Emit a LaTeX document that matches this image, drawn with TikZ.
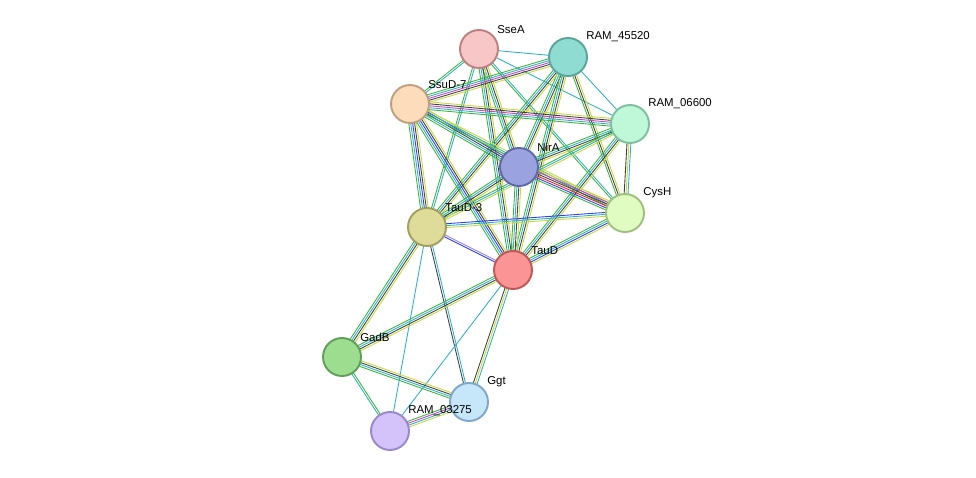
\documentclass[tikz,border=0pt]{standalone}
\usepackage{fontspec}
\setmainfont{Liberation Sans}
\usetikzlibrary{calc}
\definecolor{yel}{HTML}{C8D83C}
\definecolor{grn}{HTML}{3CB43C}
\definecolor{cya}{HTML}{30B0C8}
\definecolor{blk}{HTML}{404040}
\definecolor{mag}{HTML}{C840C8}
\definecolor{blu}{HTML}{3040E8}
\definecolor{rd}{HTML}{E82020}
\definecolor{pur}{HTML}{9A80F0}
\newcommand{\pedge}[3]{%
  \foreach \c [count=\n] in {#3}{\xdef\ncol{\n}}
  \foreach \c [count=\i] in {#3}{
    \pgfmathsetmacro{\off}{(\i-(\ncol+1)/2)*1.1}
    \draw[link,\c] ($(#1)!\off pt!90:(#2)$) -- ($(#2)!\off pt!-90:(#1)$);
  }}
\begin{document}
\begin{tikzpicture}[x=0.02cm,y=-0.02cm,
    link/.style={line width=0.5pt},
    prot/.style={circle, draw, line width=1.1pt, minimum size=0.76cm, inner sep=0pt},
    lbl/.style={font=\fontsize{6.5}{7}\selectfont, inner sep=0pt, anchor=south west}]
    \useasboundingbox (0,0) rectangle (976,477);
    % node positions
    \coordinate (SseA) at (479,49);
    \coordinate (R45) at (568,57);
    \coordinate (Ssu) at (410,104);
    \coordinate (R06) at (630,124);
    \coordinate (Nir) at (519,167);
    \coordinate (Cys) at (625,213);
    \coordinate (T3) at (427,227);
    \coordinate (TauD) at (513,270);
    \coordinate (Gad) at (342,357);
    \coordinate (Ggt) at (469,402);
    \coordinate (R03) at (390,431);
    % edges
    \pedge{SseA}{R45}{cya}
    \pedge{SseA}{Ssu}{grn,cya}
    \pedge{SseA}{R06}{cya}
    \pedge{SseA}{Nir}{grn,cya,blk,yel}
    \pedge{SseA}{Cys}{grn,cya}
    \pedge{SseA}{T3}{grn,cya}
    \pedge{SseA}{TauD}{grn,cya,blk,yel}
    \pedge{R45}{Ssu}{grn,cya,mag,blk,yel}
    \pedge{R45}{R06}{cya}
    \pedge{R45}{Nir}{grn,cya,blk,yel}
    \pedge{R45}{Cys}{grn,blk,yel}
    \pedge{R45}{T3}{grn,cya,blk,yel}
    \pedge{R45}{TauD}{grn,cya,blk,yel}
    \pedge{Ssu}{R06}{grn,cya,mag,blk,yel}
    \pedge{Ssu}{Nir}{grn,cya,blk,blu,yel}
    \pedge{Ssu}{Cys}{grn,cya,yel}
    \pedge{Ssu}{T3}{grn,cya,blu,blk,yel}
    \pedge{Ssu}{TauD}{grn,cya,blu,blk,yel}
    \pedge{R06}{Nir}{grn,cya,blk,yel}
    \pedge{R06}{Cys}{blk,yel,cya}
    \pedge{R06}{T3}{grn,cya,yel}
    \pedge{R06}{TauD}{grn,cya,blk,yel}
    \pedge{Nir}{Cys}{grn,blu,rd,blk,mag,yel}
    \pedge{Nir}{T3}{grn,cya,blk,yel}
    \pedge{Nir}{TauD}{grn,cya,blk,yel}
    \pedge{Cys}{T3}{blu,cya,yel}
    \pedge{Cys}{TauD}{grn,cya,blu,yel}
    \pedge{T3}{TauD}{blu,pur}
    \pedge{T3}{Gad}{grn,cya,blk,yel}
    \pedge{T3}{Ggt}{blk,cya}
    \pedge{T3}{R03}{cya}
    \pedge{TauD}{Gad}{grn,cya,blk,yel}
    \pedge{TauD}{Ggt}{blk,yel,cya}
    \pedge{TauD}{R03}{cya}
    \pedge{Gad}{Ggt}{grn,cya,blk,yel}
    \pedge{Gad}{R03}{cya,grn}
    \pedge{Ggt}{R03}{grn,mag,cya,yel}
    % proteins
    \node[prot, fill={rgb,255:red,247;green,198;blue,198}, draw={rgb,255:red,192;green,128;blue,128}] (nSseA) at (SseA) {};
    \node[prot, fill={rgb,255:red,143;green,220;blue,211}, draw={rgb,255:red,90;green,165;blue,156}] (nR45) at (R45) {};
    \node[prot, fill={rgb,255:red,253;green,220;blue,188}, draw={rgb,255:red,191;green,159;blue,127}] (nSsu) at (Ssu) {};
    \node[prot, fill={rgb,255:red,191;green,248;blue,216}, draw={rgb,255:red,128;green,192;blue,160}] (nR06) at (R06) {};
    \node[prot, fill={rgb,255:red,154;green,163;blue,224}, draw={rgb,255:red,96;green,104;blue,168}] (nNir) at (Nir) {};
    \node[prot, fill={rgb,255:red,224;green,252;blue,192}, draw={rgb,255:red,160;green,192;blue,128}] (nCys) at (Cys) {};
    \node[prot, fill={rgb,255:red,223;green,219;blue,152}, draw={rgb,255:red,160;green,160;blue,96}] (nT3) at (T3) {};
    \node[prot, fill={rgb,255:red,251;green,148;blue,148}, draw={rgb,255:red,192;green,88;blue,88}] (nTauD) at (TauD) {};
    \node[prot, fill={rgb,255:red,156;green,221;blue,144}, draw={rgb,255:red,96;green,160;blue,88}] (nGad) at (Gad) {};
    \node[prot, fill={rgb,255:red,198;green,230;blue,250}, draw={rgb,255:red,128;green,168;blue,200}] (nGgt) at (Ggt) {};
    \node[prot, fill={rgb,255:red,212;green,194;blue,250}, draw={rgb,255:red,154;green,136;blue,200}] (nR03) at (R03) {};
    % labels
    \node[lbl] at ($(SseA)+(18,-15)$) {SseA};
    \node[lbl] at ($(R45)+(18,-15)$) {RAM\_45520};
    \node[lbl] at ($(Ssu)+(18,-15)$) {SsuD-7};
    \node[lbl] at ($(R06)+(18,-15)$) {RAM\_06600};
    \node[lbl] at ($(Nir)+(18,-15)$) {NirA};
    \node[lbl] at ($(Cys)+(18,-15)$) {CysH};
    \node[lbl] at ($(T3)+(18,-15)$) {TauD-3};
    \node[lbl] at ($(TauD)+(18,-15)$) {TauD};
    \node[lbl] at ($(Gad)+(18,-15)$) {GadB};
    \node[lbl] at ($(Ggt)+(18,-15)$) {Ggt};
    \node[lbl] at ($(R03)+(18,-15)$) {RAM\_03275};
\end{tikzpicture}
\end{document}
